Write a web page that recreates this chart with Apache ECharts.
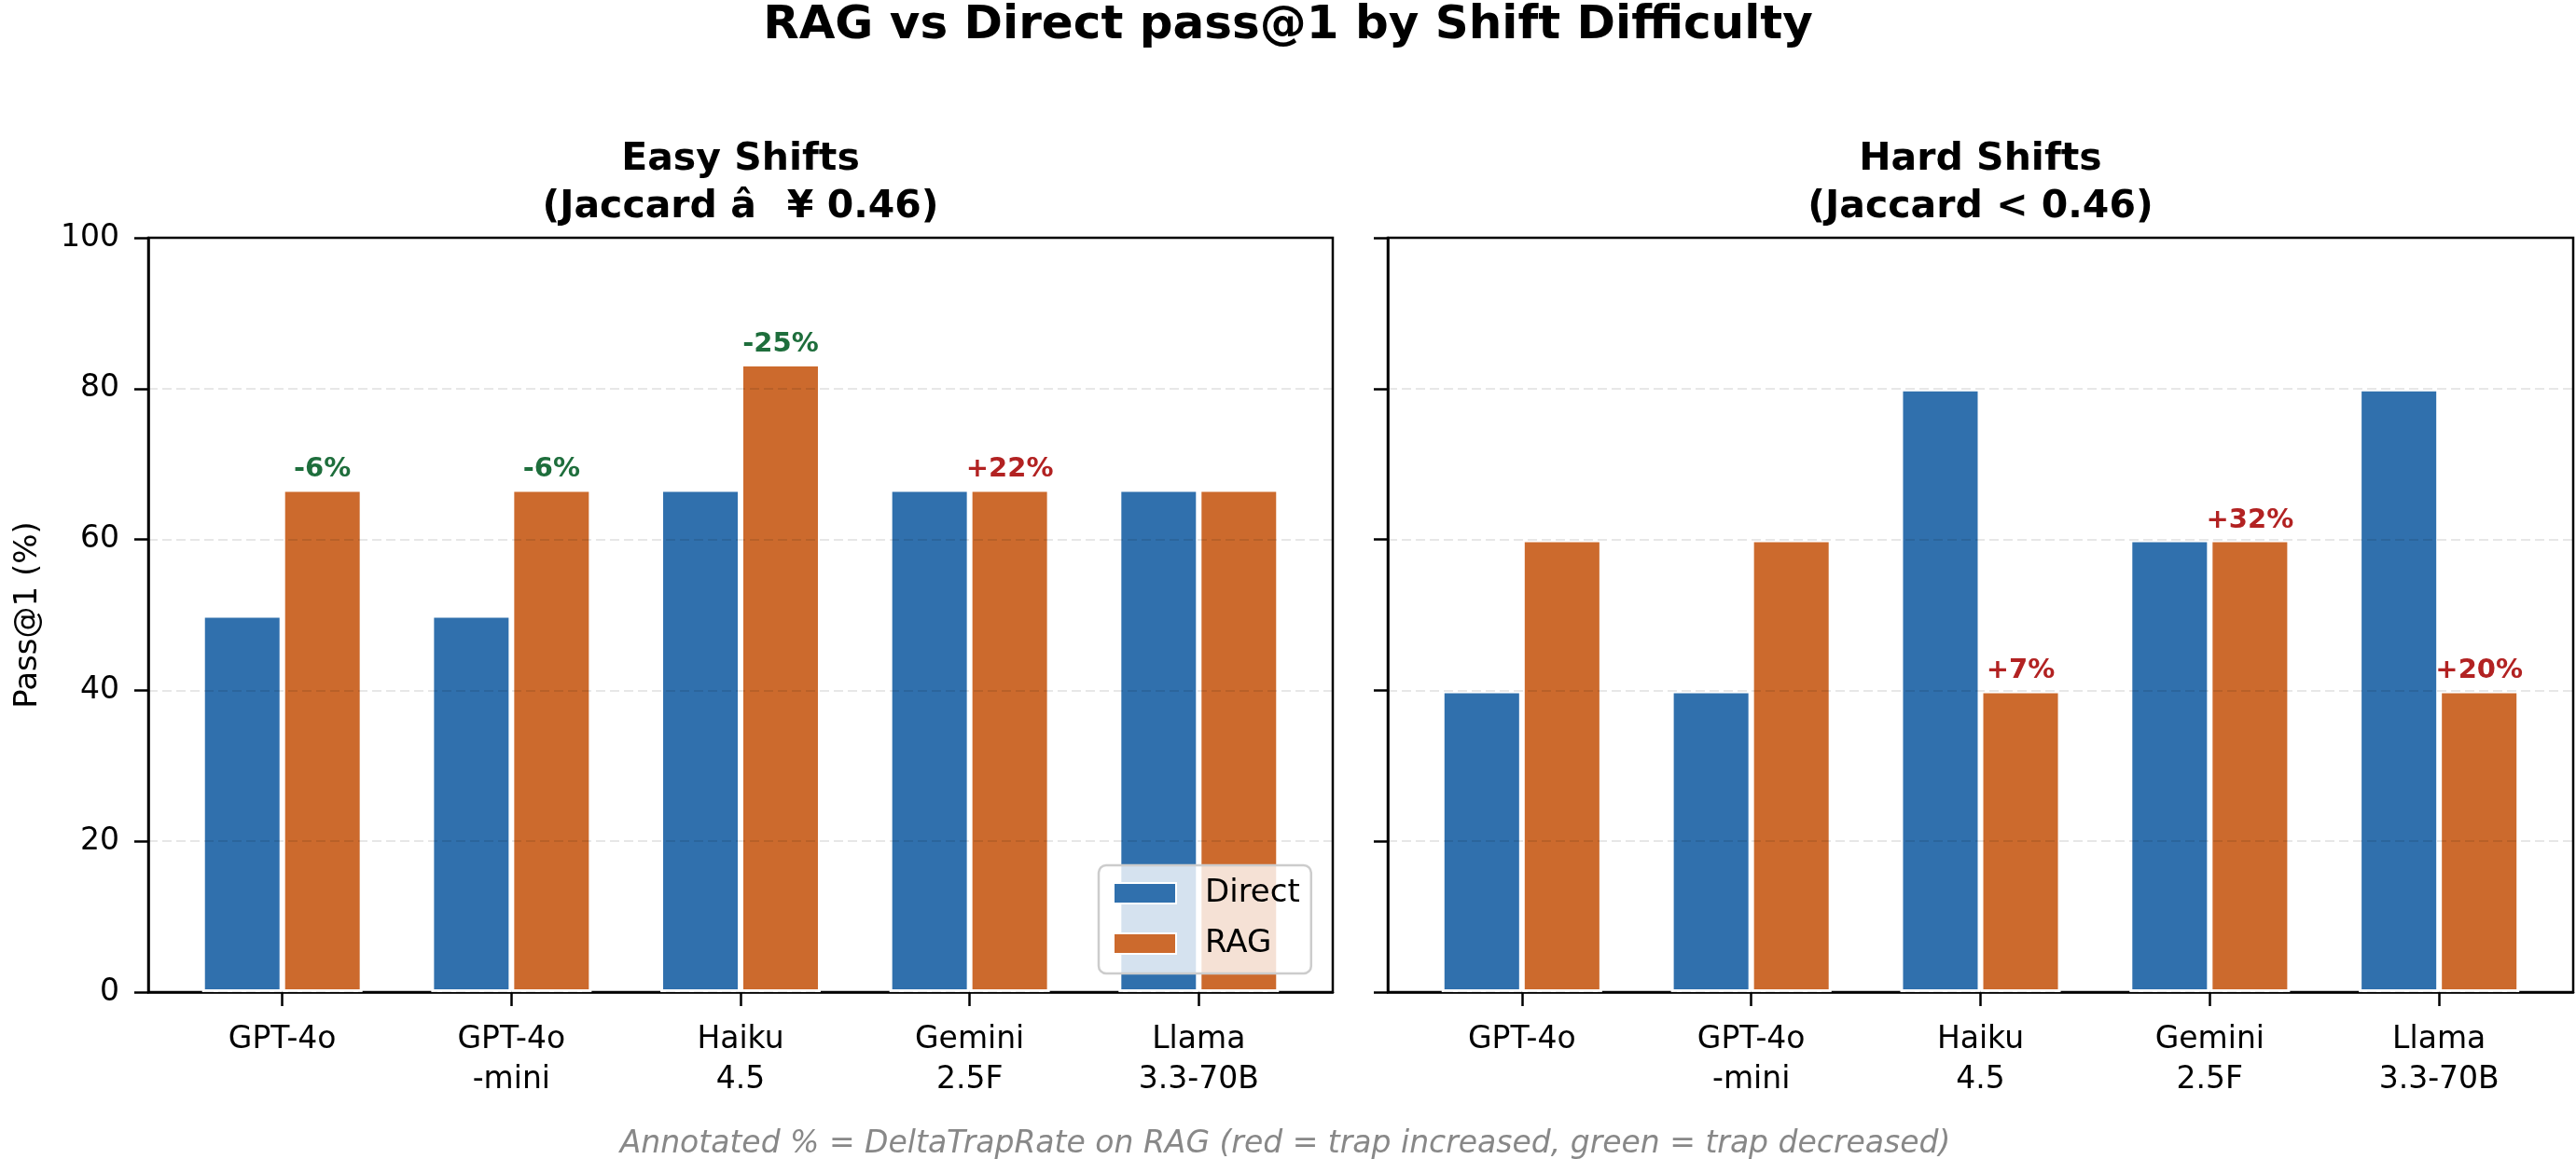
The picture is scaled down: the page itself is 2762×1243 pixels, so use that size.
<!DOCTYPE html>
<html>
<head>
<meta charset="utf-8">
<script src="https://cdn.jsdelivr.net/npm/echarts@6/dist/echarts.min.js"></script>
<style>
html,body{margin:0;padding:0;background:#fff;}
#chart{width:2762px;height:1243px;}
</style>
</head>
<body>
<div id="chart"></div>
<script>
const categories = ['GPT-4o', 'GPT-4o\n-mini', 'Haiku\n4.5', 'Gemini\n2.5F', 'Llama\n3.3-70B'];
const easyDirect = [50, 50, 66.7, 66.7, 66.7];
const easyRAG = [66.7, 66.7, 83.3, 66.7, 66.7];
const easyDelta = ['-6%', '-6%', '-25%', '+22%', null];
const hardDirect = [40, 40, 80, 60, 80];
const hardRAG = [60, 60, 40, 60, 40];
const hardDelta = [null, null, '+7%', '+32%', '+20%'];
const yTicks = [0, 20, 40, 60, 80, 100];
const panelTitles = ['Easy Shifts\n(Jaccard \u00e2\u0089\u00a5 0.46)', 'Hard Shifts\n(Jaccard < 0.46)'];
const mainTitle = 'RAG vs Direct pass@1 by Shift Difficulty';
const footnote = 'Annotated % = DeltaTrapRate on RAG (red = trap increased, green = trap decreased)';

const FONT = 'DejaVu Sans';
const BLUE = '#3070ad';
const ORANGE = '#cc6a2d';
const RED = '#b22222';
const GREEN = '#1e6e3c';
const XMIN = -0.585, XMAX = 4.585;
const idx = categories.map((c, i) => i);

const grids = [
  {left: 159, top: 255, width: 1270, height: 809},
  {left: 1488, top: 255, width: 1271, height: 809}
];

function xAxisFor(g) {
  return {
    type: 'value', gridIndex: g, min: XMIN, max: XMAX,
    axisLine: {show: true, onZero: false, lineStyle: {color: '#000', width: 2.5}},
    axisTick: {show: true, customValues: idx, length: 15, inside: false, lineStyle: {color: '#000', width: 2.5}},
    axisLabel: {show: true, customValues: idx, margin: 30, fontSize: 33, lineHeight: 43, color: '#000', fontFamily: FONT,
      formatter: v => categories[Math.round(v)]},
    splitLine: {show: false}
  };
}
function yAxisFor(g) {
  return {
    type: 'value', gridIndex: g, min: 0, max: 100, interval: 20, z: 5,
    name: g === 0 ? 'Pass@1 (%)' : '', nameLocation: 'middle', nameGap: 112,
    nameTextStyle: {fontSize: 34, color: '#000', fontFamily: FONT},
    axisLine: {show: true, onZero: false, lineStyle: {color: '#000', width: 2.5}},
    axisTick: {show: true, length: 15, inside: false, lineStyle: {color: '#000', width: 2.5}},
    axisLabel: {show: g === 0, margin: 31, fontSize: 33, color: '#000', fontFamily: FONT,
      formatter: v => yTicks.includes(v) ? String(v) : ''},
    splitLine: {show: true, lineStyle: {color: 'rgba(0,0,0,0.13)', type: [10, 5], width: 1.5}}
  };
}

function barWidthFor(g) {
  return grids[g].width / (XMAX - XMIN) * 0.35;
}

function makeSeries(name, vals, g, color, deltas) {
  return {
    name: name, type: 'bar', xAxisIndex: g, yAxisIndex: g,
    barWidth: barWidthFor(g), barGap: '0%',
    itemStyle: {color: color, borderColor: '#fff', borderWidth: 3},
    data: vals.map((v, i) => {
      const d = {value: [i, v]};
      if (deltas && deltas[i]) {
        d.label = {show: true, position: 'top', distance: 6, formatter: deltas[i],
          color: deltas[i].startsWith('+') ? RED : GREEN, fontWeight: 'bold', fontSize: 29, fontFamily: FONT};
      }
      return d;
    })
  };
}

const option = {
  backgroundColor: '#fff',
  animation: false,
  textStyle: {fontFamily: FONT},
  title: [
    {text: mainTitle, left: 'center', top: 3, padding: 0,
      textStyle: {fontSize: 50, fontWeight: 'bold', color: '#000', fontFamily: FONT}},
    {text: panelTitles[0], left: grids[0].left + grids[0].width / 2, textAlign: 'center', top: 146, padding: 0,
      textStyle: {fontSize: 41, fontWeight: 'bold', color: '#000', lineHeight: 51, fontFamily: FONT}},
    {text: panelTitles[1], left: grids[1].left + grids[1].width / 2, textAlign: 'center', top: 146, padding: 0,
      textStyle: {fontSize: 41, fontWeight: 'bold', color: '#000', lineHeight: 51, fontFamily: FONT}},
    {text: footnote, left: 1378, textAlign: 'center', top: 1211, padding: 0,
      textStyle: {fontSize: 33, fontStyle: 'italic', fontWeight: 'normal', color: '#888', fontFamily: FONT}}
  ],
  legend: {
    data: ['Direct', 'RAG'], orient: 'vertical', left: 1178, top: 928,
    padding: [13, 12, 15, 15], itemGap: 20, itemWidth: 67, itemHeight: 22,
    backgroundColor: 'rgba(255,255,255,0.8)', borderColor: '#ccc', borderWidth: 2.5, borderRadius: 8,
    icon: 'rect',
    textStyle: {fontSize: 34, color: '#000', fontFamily: FONT, padding: [0, 0, 0, 26]}
  },
  grid: grids.map(g => Object.assign({show: true, borderColor: '#000', borderWidth: 2.5, backgroundColor: 'transparent'}, g)),
  xAxis: [xAxisFor(0), xAxisFor(1)],
  yAxis: [yAxisFor(0), yAxisFor(1)],
  series: [
    makeSeries('Direct', easyDirect, 0, BLUE, null),
    makeSeries('RAG', easyRAG, 0, ORANGE, easyDelta),
    makeSeries('Direct', hardDirect, 1, BLUE, null),
    makeSeries('RAG', hardRAG, 1, ORANGE, hardDelta)
  ]
};

const chart = echarts.init(document.getElementById('chart'), null, {renderer: 'canvas'});
chart.setOption(option);
</script>
</body>
</html>
